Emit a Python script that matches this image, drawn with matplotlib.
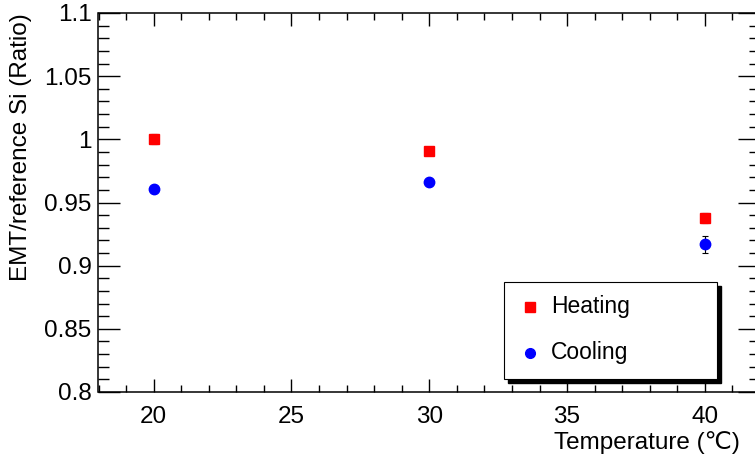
import matplotlib

matplotlib.use("Agg")
import matplotlib.pyplot as plt
from matplotlib.patches import Rectangle
from matplotlib.ticker import MultipleLocator, FuncFormatter

plt.rcParams["font.family"] = ["Liberation Sans", "DejaVu Sans"]

# data
temperature = [20, 30, 40]
heating = [1.000, 0.991, 0.938]
heating_err = [0.004, 0.002, 0.004]
cooling = [0.961, 0.966, 0.917]
cooling_err = [0.002, 0.002, 0.0066]

W, H = 755, 459
fig = plt.figure(figsize=(W / 100, H / 100), dpi=100)
# ROOT-style frame, right edge runs slightly past the canvas
left, right, top, bottom = 98.5, 760, 13, 392
ax = fig.add_axes([left / W, 1 - bottom / H, (right - left) / W, (bottom - top) / H])

ax.errorbar(temperature, heating, yerr=heating_err, fmt="s", color="red", ms=7.5,
            ecolor="black", elinewidth=0.8, capsize=2, capthick=0.8, label="Heating", zorder=3)
ax.errorbar(temperature, cooling, yerr=cooling_err, fmt="o", color="blue", ms=7.5,
            ecolor="black", elinewidth=0.8, capsize=2, capthick=0.8, label="Cooling", zorder=3)

ax.set_xlim(18, 42)
ax.set_ylim(0.8, 1.1)
ax.xaxis.set_major_locator(MultipleLocator(5))
ax.xaxis.set_minor_locator(MultipleLocator(1))
ax.yaxis.set_major_locator(MultipleLocator(0.05))
ax.yaxis.set_minor_locator(MultipleLocator(0.01))
ax.yaxis.set_major_formatter(FuncFormatter(lambda v, p: f"{v:.2f}".rstrip("0").rstrip(".")))

for s in ax.spines.values():
    s.set_linewidth(1.1)
ax.tick_params(axis="both", which="both", direction="in", top=True, right=True, width=1.0)
ax.tick_params(axis="x", which="major", length=9.5, pad=10, labelsize=17.5)
ax.tick_params(axis="x", which="minor", length=5)
ax.tick_params(axis="y", which="major", length=16, pad=5, labelsize=17.5)
ax.tick_params(axis="y", which="minor", length=8)

fig.text(740 / W, 1 - 443 / H, "Temperature (\u2103)", fontsize=17.5, ha="right", va="center")
fig.text(21 / W, 1 - top / H, "EMT/reference Si (Ratio)", fontsize=17.5, rotation=90,
         ha="center", va="top")

# legend box with black drop shadow, drawn in pixel coords
bx0, by0, bx1, by1 = 504, 282, 717, 379
tr = fig.transFigure
fig.patches.append(Rectangle(((bx0 + 4) / W, 1 - (by1 + 4) / H), (bx1 - bx0) / W, (by1 - by0) / H,
                             transform=tr, facecolor="black", edgecolor="black", zorder=5))
fig.patches.append(Rectangle((bx0 / W, 1 - by1 / H), (bx1 - bx0) / W, (by1 - by0) / H,
                             transform=tr, facecolor="white", edgecolor="black", lw=0.8, zorder=6))
for lab, mk, col, yy in [("Heating", "s", "red", 307), ("Cooling", "o", "blue", 353)]:
    fig.add_artist(plt.Line2D([530 / W], [1 - yy / H], marker=mk, color=col, ms=7, ls="none",
                              transform=tr, zorder=7))
    fig.text(551 / W, 1 - yy / H, lab, fontsize=16.5, va="center", ha="left", zorder=7)

fig.savefig("out.png", dpi=100)
